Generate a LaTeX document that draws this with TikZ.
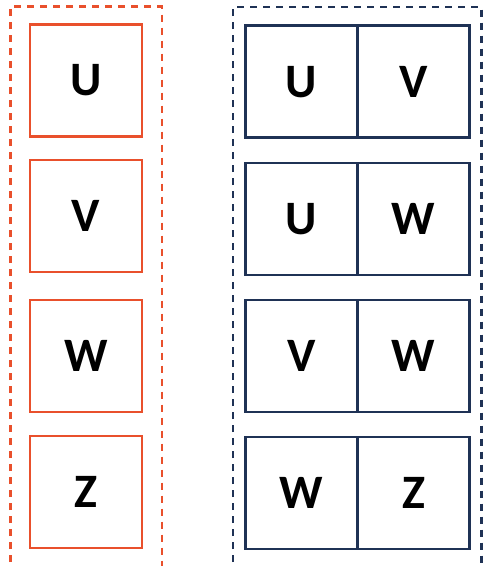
\documentclass[tikz,border=0pt]{standalone}
\usepackage{fontspec}
\setmainfont{Carlito}
\definecolor{orng}{RGB}{233,80,44}
\definecolor{navy}{RGB}{31,50,85}
\begin{document}
\begin{tikzpicture}[x=1pt,y=1pt,
  obox/.style={draw=orng,line width=2.8pt,minimum width=112pt,minimum height=112pt,inner sep=0pt,font=\fontsize{48}{48}\selectfont\bfseries},
  nbox/.style={draw=navy,line width=2.8pt,minimum width=112pt,minimum height=112pt,inner sep=0pt,font=\fontsize{48}{48}\selectfont\bfseries},
  odash/.style={draw=orng,line width=2.6pt,dash pattern=on 7pt off 6pt},
  ndash/.style={draw=navy,line width=2.6pt,dash pattern=on 7pt off 6pt}]
\useasboundingbox (0,0) rectangle (483,-566);
\begin{scope}
\clip (0,0) rectangle (483,-566);
\draw[odash] (10.5,-575) -- (10.5,-6.5) -- (162,-6.5) -- (162,-575);
\draw[ndash] (233,-575) -- (233,-7) -- (481.5,-7) -- (481.5,-575);
\end{scope}
\node[obox] (o1) at (86,-80.5) {U};
\node[obox] (o2) at (86,-216) {V};
\node[obox] (o3) at (86,-356) {W};
\node[obox] (o4) at (86,-492) {Z};
\node[nbox] (a1) at (301.3,-81.8) {U};
\node[nbox] (b1) at (413.5,-81.8) {V};
\node[nbox] (a2) at (301.3,-219) {U};
\node[nbox] (b2) at (413.5,-219) {W};
\node[nbox] (a3) at (301.3,-356) {V};
\node[nbox] (b3) at (413.5,-356) {W};
\node[nbox] (a4) at (301.3,-493) {W};
\node[nbox] (b4) at (413.5,-493) {Z};
\end{tikzpicture}
\end{document}
